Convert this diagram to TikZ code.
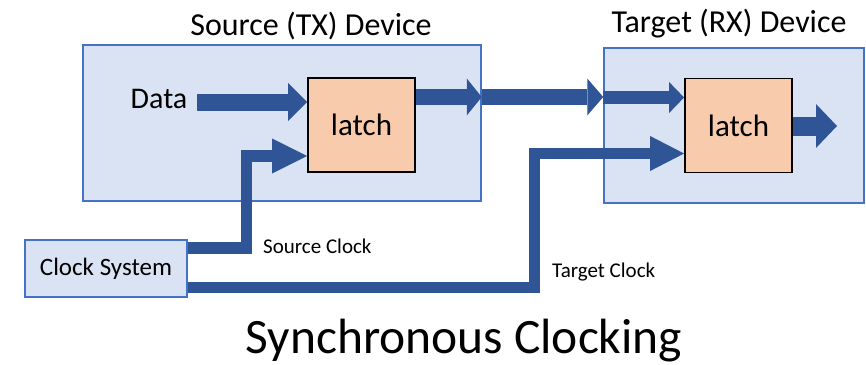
\documentclass[tikz,border=0pt]{standalone}
\usepackage{fontspec}
\setmainfont{Carlito}
\usetikzlibrary{arrows.meta}

\definecolor{devfill}{HTML}{DAE3F3}
\definecolor{devline}{HTML}{4472C4}
\definecolor{latchfill}{HTML}{F8CBAD}
\definecolor{flow}{HTML}{2F5597}

\tikzset{
  device/.style={draw=devline, fill=devfill, line width=1.5pt, inner sep=0pt},
  latchbox/.style={draw=black, fill=latchfill, line width=1.8pt, inner sep=0pt,
    minimum width=107pt, minimum height=94pt, font=\fontsize{31}{36}\selectfont},
  txt/.style={inner sep=0pt, text=black},
  bigflow/.style={draw=flow, line width=#1, line join=miter},
}

\begin{document}
\begin{tikzpicture}[x=1pt, y=-1pt]
  \useasboundingbox (0,0) rectangle (866,364);

  % device enclosures
  \node[device, minimum width=398pt, minimum height=156pt] (srcdev) at (282,123) {};
  \node[device, minimum width=260pt, minimum height=155pt] (tgtdev) at (734,125.5) {};
  \node[device, minimum width=162pt, minimum height=57pt,
        font=\fontsize{25}{29}\selectfont] (clk) at (106,268.5) {Clock System};

  % latches
  \node[latchbox] (srclatch) at (361.5,125) {latch};
  \node[latchbox] (tgtlatch) at (738.5,125.5) {latch};

  % titles and labels
  \node[txt, anchor=base, font=\fontsize{32}{37}\selectfont] (srctitle) at (311,35) {Source (TX) Device};
  \node[txt, anchor=base, font=\fontsize{32}{37}\selectfont] (tgttitle) at (729,32) {Target (RX) Device};
  \node[txt, anchor=base, font=\fontsize{30}{36}\selectfont] (data) at (159,108) {Data};
  \node[txt, anchor=base west, font=\fontsize{21}{25}\selectfont] (srcclk) at (263,253) {Source Clock};
  \node[txt, anchor=base west, font=\fontsize{21}{25}\selectfont] (tgtclk) at (552,277) {Target Clock};
  \node[txt, anchor=base, font=\fontsize{49.5}{58}\selectfont] (caption) at (464,353) {Synchronous Clocking};

  % free ends of the data flow
  \coordinate (din) at (197,102);
  \coordinate (dout) at (837,126);

  % data path
  \draw[bigflow=17pt, -{Triangle[length=19pt 0 0, width=38pt 0 0, line width=0pt 0 0]}]
    (din) -- (din -| srclatch.west);
  \draw[bigflow=16pt, -{Triangle[length=15pt 0 0, width=37pt 0 0, line width=0pt 0 0]}]
    (srclatch.east |- 0,97) -- (srcdev.east |- 0,97);
  \draw[bigflow=16pt, -{Triangle[length=16pt 0 0, width=37pt 0 0, line width=0pt 0 0]}]
    (srcdev.east |- 0,97) -- (tgtdev.west |- 0,97);
  \draw[bigflow=13pt, -{Triangle[length=15pt 0 0, width=31pt 0 0, line width=0pt 0 0]}]
    (tgtdev.west |- 0,97.5) -- (tgtlatch.west |- 0,97.5);
  \draw[bigflow=19pt, -{Triangle[length=21pt 0 0, width=44pt 0 0, line width=0pt 0 0]}]
    (tgtlatch.east |- dout) -- (dout);

  % clock distribution
  \draw[bigflow=11.5pt, -{Triangle[length=35pt 0 0, width=35pt 0 0, line width=0pt 0 0]}]
    (clk.east |- 0,248) -- (246.5,248) -- (246.5,156) -- (srclatch.west |- 0,156);
  \draw[bigflow=11.5pt, -{Triangle[length=34pt 0 0, width=35pt 0 0, line width=0pt 0 0]}]
    (clk.east |- 0,287.5) -- (534.5,287.5) -- (534.5,153.5) -- (tgtlatch.west |- 0,153.5);
\end{tikzpicture}
\end{document}
